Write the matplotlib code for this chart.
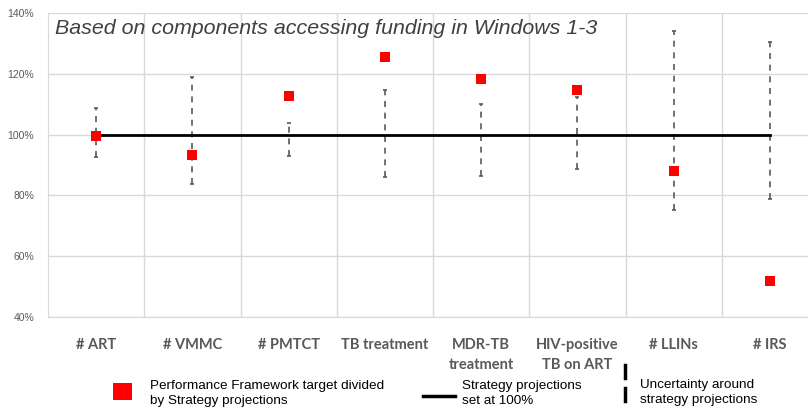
import matplotlib.pyplot as plt
from matplotlib.lines import Line2D
from matplotlib.patches import Rectangle

categories = ['# ART', '# VMMC', '# PMTCT', 'TB treatment', 'MDR-TB\ntreatment',
              'HIV-positive\nTB on ART', '# LLINs', '# IRS']
target_ratio = [99.5, 93.3, 112.7, 125.5, 118.3, 114.6, 88.1, 51.7]
upper = [108.6, 118.9, 103.7, 114.8, 110.0, 112.4, 134.1, 130.3]
lower = [92.7, 83.6, 93.1, 86.1, 86.3, 88.8, 75.1, 78.7]
y_ticks = [40, 60, 80, 100, 120, 140]

W, H = 808, 409
fig = plt.figure(figsize=(W / 100, H / 100), dpi=100)
ax = fig.add_axes([48 / W, (H - 317) / H, 770 / W, 304 / H])

x = list(range(len(categories)))
grid_c = '#d9d9d9'
err_c = '#595959'

# uncertainty, baseline and targets
ax.vlines(x, lower, upper, colors=err_c, linewidth=1.2, linestyles=(0, (3.6, 3.4)), zorder=3)
ax.plot(x, upper, linestyle='none', marker='_', markersize=3, color=err_c, mew=1.2, zorder=3)
ax.plot(x, lower, linestyle='none', marker='_', markersize=3, color=err_c, mew=1.2, zorder=3)
ax.plot([x[0], x[-1]], [100, 100], color='black', linewidth=2, zorder=4)
ax.plot(x, target_ratio, linestyle='none', marker='s', markersize=7.5,
        color='#ff0000', markeredgewidth=0, zorder=5)

ax.set_xlim(-0.5, len(categories) - 0.5)
ax.set_ylim(40, 140)
ax.set_yticks(y_ticks)
ax.set_yticklabels([f'{v}%' for v in y_ticks], fontsize=7.5, color='#595959',
                   family='Liberation Sans')
ax.set_xticks(x)
ax.set_xticklabels(categories, fontsize=10.5, fontweight='bold', color='#595959',
                   family='Lato', linespacing=1.55)
ax.set_xticks([i + 0.5 for i in x[:-1]], minor=True)
ax.tick_params(axis='both', which='both', length=0)
ax.tick_params(axis='x', pad=15)
ax.tick_params(axis='y', pad=10)
ax.grid(axis='y', color=grid_c, linewidth=1, zorder=0)
ax.grid(axis='x', which='minor', color=grid_c, linewidth=1, zorder=0)
for side in ['top', 'right']:
    ax.spines[side].set_visible(False)
for side in ['left', 'bottom']:
    ax.spines[side].set_color(grid_c)
ax.set_axisbelow(True)

ax.text(55 / W, (H - 28) / H, 'Based on components accessing funding in Windows 1-3',
        transform=fig.transFigure, fontsize=15.4, style='italic', color='#404040',
        family='Liberation Sans', va='center', ha='left')

# legend drawn by hand
def legend_text(px, py, lines):
    for k, s in enumerate(lines):
        fig.text(px / W, (H - py - 15 * k) / H, s, fontsize=9.7,
                 family='Liberation Sans', va='center', ha='left')

fig.add_artist(Rectangle((113 / W, (H - 400) / H), 19 / W, 17 / H,
                         transform=fig.transFigure, color='#ff0000', lw=0))
legend_text(150, 386, ['Performance Framework target divided', 'by Strategy projections'])
fig.add_artist(Line2D([423 / W, 455 / W], [(H - 396) / H] * 2,
                      transform=fig.transFigure, color='black', lw=2.5))
legend_text(462, 386, ['Strategy projections', 'set at 100%'])
for y0, y1 in [(365, 378), (388, 401)]:
    fig.add_artist(Line2D([625 / W] * 2, [(H - y0) / H, (H - y1) / H],
                          transform=fig.transFigure, color='black', lw=2.5))
legend_text(640, 385, ['Uncertainty around', 'strategy projections'])

fig.savefig('out.png', dpi=100)
